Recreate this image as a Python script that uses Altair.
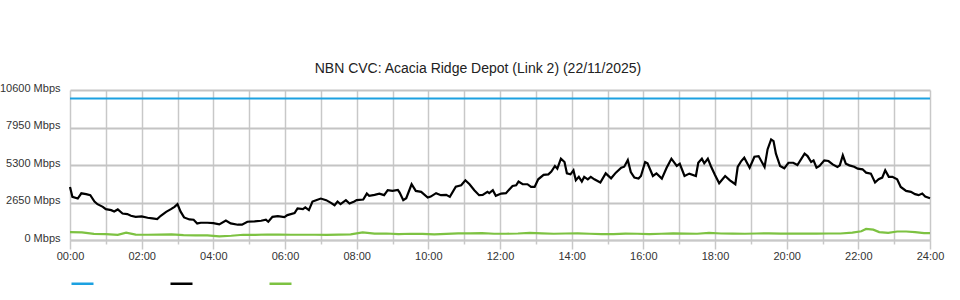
import altair as alt
import pandas as pd

# ---- data (time in minutes since 00:00, Mbps) ----
capacity_t = [0, 1440]
capacity_v = [10000, 10000]

in_t = [0, 4, 13, 19, 27, 34, 41, 46, 55, 60, 69, 74, 80, 88, 96, 102, 110, 120,
        130, 138, 146, 152, 161, 169, 175, 180, 185, 191, 200, 207, 213, 219, 230,
        240, 250, 261, 269, 281, 288, 297, 309, 320, 328, 332, 339, 348, 359,
        364, 376, 381, 390, 394, 400, 406, 412, 420, 429, 437, 443, 448, 453,
        462, 468, 476, 480, 491, 497, 501, 510, 518, 526, 532, 540, 549, 552,
        558, 563, 572, 579, 588, 599, 604, 613, 621, 630, 636, 646, 655, 662,
        669, 677, 685, 691, 699, 702, 708, 713,
        722, 730, 741, 747, 751, 758, 766, 772, 778, 784, 793, 801, 806, 812,
        816, 822, 828, 832, 838, 843, 847, 852, 857, 861, 867, 872, 878, 888,
        897, 906, 914, 923, 928, 934, 939, 945, 952, 956, 963, 967, 976, 982,
        991, 999, 1007, 1016, 1021, 1029, 1037, 1048, 1052, 1058, 1062, 1068,
        1073, 1080, 1087, 1097, 1105, 1114, 1118, 1124, 1129, 1138, 1146, 1153,
        1163, 1168, 1174, 1178, 1182, 1189, 1196, 1203, 1211, 1218, 1230, 1235,
        1241, 1245, 1250, 1255, 1263, 1270, 1277, 1285, 1289, 1294, 1299, 1305,
        1313, 1319, 1327, 1333, 1341, 1348, 1354, 1360, 1365, 1371, 1377, 1385,
        1391, 1400, 1408, 1415, 1421, 1427, 1432, 1440]
in_v = [3750, 3050, 2930, 3300, 3240, 3170, 2720, 2530, 2345, 2180, 2110, 2020,
        2160, 1875, 1830, 1710, 1640, 1665, 1570, 1525, 1480, 1710, 1990, 2180,
        2345, 2530, 2020, 1595, 1455, 1430, 1170, 1220, 1220, 1195, 1100, 1380,
        1170, 1080, 1080, 1290, 1310, 1360, 1430, 1290, 1640, 1690, 1620,
        1760, 1900, 2230, 2180, 2300, 2110, 2720, 2815, 2930, 2815, 2625, 2460,
        2720, 2530, 2815, 2580, 2720, 2815, 2860, 3280, 3120, 3190, 3280, 3170,
        3520, 3470, 3540, 3350, 2815, 2955, 3940, 3470, 3400, 3000, 3070, 3310,
        3170, 3190, 3050, 3775, 3870, 4220, 3940, 3520, 3170, 3190, 3400, 3310,
        3520, 3120,
        3280, 3310, 3820, 3870, 4130, 3940, 3940, 3750, 3750, 4290, 4600, 4640,
        4830, 5230, 5040, 5745, 5510, 4710, 4640, 4920, 4220, 4460, 4130, 4460,
        4290, 4460, 4290, 4060, 4710, 4360, 4760, 5110, 5180, 5650, 4800, 4410,
        4340, 4525, 5510, 5420, 4525, 4710, 4340, 5110, 5745, 5230, 5390, 4525,
        4690, 4525, 5460, 5745, 5420, 5745, 5230, 4600, 4010, 4525, 4220, 3940,
        5160, 5580, 5815, 5110, 5885, 5930, 5160, 6400, 7105, 6990, 6100, 5230,
        5065, 5460, 5460, 5300, 6100, 5930, 5510, 5630, 5110, 5230, 5630, 5580,
        5345, 5160, 5275, 5980, 5390, 5275, 5180, 5040, 4995, 4760, 4690, 4060,
        4290, 4410, 4925, 4460, 4460, 4290, 3750, 3470, 3400, 3240, 3170, 3280,
        3070, 2955]

out_t = [0, 20, 40, 60, 80, 94, 110, 130, 150, 170, 190, 210, 230, 250, 270,
         290, 310, 330, 350, 370, 390, 410, 430, 450, 470, 490, 510, 530, 550,
         570, 590, 610, 630, 650, 670, 690, 710, 730, 750, 770, 790, 810, 830,
         850, 870, 890, 910, 930, 950, 970, 990, 1010, 1030, 1050, 1070, 1090,
         1110, 1130, 1150, 1170, 1190, 1210, 1230, 1250, 1270, 1290, 1310, 1325,
         1333, 1345, 1355, 1370, 1385, 1400, 1415, 1430, 1440]
out_v = [560, 540, 430, 410, 360, 520, 380, 370, 380, 400, 350, 330, 320, 250,
         300, 370, 360, 390, 380, 370, 370, 370, 360, 380, 400, 540, 450, 460,
         420, 440, 430, 400, 430, 470, 470, 480, 440, 440, 460, 500, 470, 440,
         460, 470, 440, 420, 420, 450, 440, 410, 440, 470, 450, 440, 500, 460,
         450, 440, 460, 470, 450, 460, 450, 450, 460, 460, 520, 620, 780, 730,
         560, 500, 600, 600, 560, 480, 480]

series_names = ["Capacity", "Inbound", "Outbound"]
series_colors = ["#1ca1e1", "#000000", "#7dc242"]
hour_ticks = list(range(0, 1441, 60))
y_ticks = [0, 2650, 5300, 7950, 10600]

rows = []
for name, ts, vs in zip(series_names, [capacity_t, in_t, out_t], [capacity_v, in_v, out_v]):
    for t, v in zip(ts, vs):
        rows.append({"series": name, "t": t, "v": v})
df = pd.DataFrame(rows)

FONT = "Liberation Sans"

chart = alt.Chart(df).mark_line(strokeWidth=2.2, interpolate="linear").encode(
    x=alt.X("t:Q", scale=alt.Scale(domain=[0, 1440], nice=False, zero=False),
            axis=alt.Axis(values=hour_ticks, title=None,
                          labelExpr="datum.value % 120 === 0 ? (datum.value < 600 ? '0' : '') + (datum.value / 60) + ':00' : ''",
                          grid=True, gridColor="#c8c8c8", gridWidth=1.5,
                          domainColor="#c8c8c8", domainWidth=1.5,
                          tickColor="#c8c8c8", tickWidth=1.5,
                          tickSize={"condition": {"test": "datum.value % 120 === 0", "value": 9}, "value": 4},
                          labelPadding=1, labelFont=FONT, labelFontSize=11,
                          labelColor="#333333", labelFlush=False)),
    y=alt.Y("v:Q", scale=alt.Scale(domain=[0, 10600], nice=False),
            axis=alt.Axis(values=y_ticks, title=None,
                          labelExpr="datum.value + ' Mbps'",
                          grid=True, gridColor="#c4c4c4", gridWidth=2,
                          domain=False, ticks=False, tickSize=0,
                          labelPadding=10, labelOffset=-2,
                          labelFont=FONT, labelFontSize=11,
                          labelColor="#333333")),
    color=alt.Color("series:N",
                    scale=alt.Scale(domain=series_names, range=series_colors),
                    legend=alt.Legend(orient="none", legendX=0, legendY=181,
                                      direction="horizontal", title=None,
                                      labelExpr="''", labelOffset=0,
                                      columnPadding=66, padding=0,
                                      symbolType="stroke", symbolSize=484,
                                      symbolStrokeWidth=2.5)),
    order=alt.Order("t:Q"),
).properties(
    width=860, height=150,
    padding={"left": 70, "top": 90, "right": 30, "bottom": 60},
    autosize="none",
    title=alt.TitleParams("NBN CVC: Acacia Ridge Depot (Link 2) (22/11/2025)",
                          font=FONT, fontSize=14, fontWeight="normal",
                          color="#222222", anchor="middle", dx=-22, offset=6),
).configure_view(stroke=None)

chart.save("out.html", embed_options={"renderer": "svg", "actions": False})
